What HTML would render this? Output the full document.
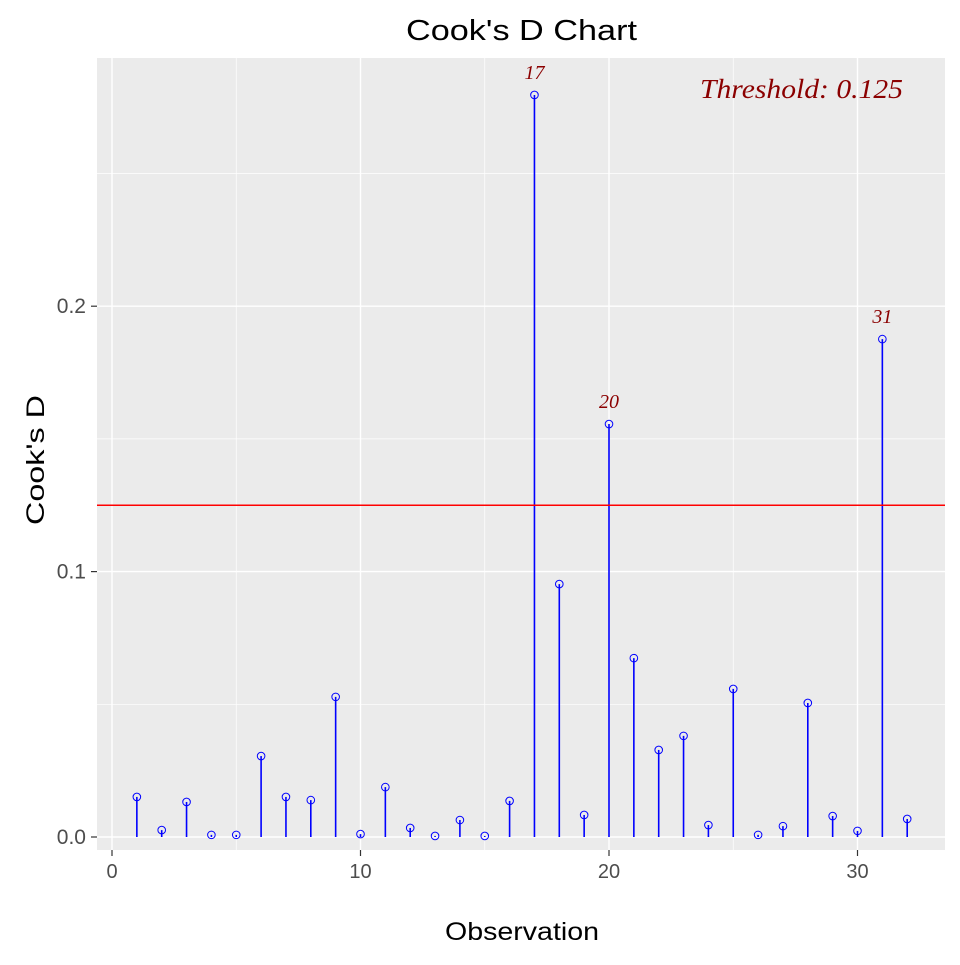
<!DOCTYPE html>
<html><head><meta charset="utf-8"><style>
body{margin:0;background:#fff}
svg text{font-family:"Liberation Sans",sans-serif}
</style></head><body>
<svg id="chart" width="960" height="960" xmlns="http://www.w3.org/2000/svg">
<rect width="960" height="960" fill="#fff"/>
<rect x="97" y="58" width="848" height="792" fill="#EBEBEB"/>
<g id="grid"></g>
<g id="marks"></g>
<g id="axes"></g>
<text x="406" y="40" font-size="29" textLength="231" lengthAdjust="spacingAndGlyphs" fill="#000">Cook's D Chart</text>
<text x="445" y="940" font-size="25" textLength="154" lengthAdjust="spacingAndGlyphs" fill="#000">Observation</text>
<text transform="translate(44,525) rotate(-90)" font-size="25" textLength="130" lengthAdjust="spacingAndGlyphs" fill="#000">Cook's D</text>
<text x="700" y="98" font-size="27" font-style="italic" textLength="203" lengthAdjust="spacingAndGlyphs" fill="#8B0000" style="font-family:'Liberation Serif',serif">Threshold: 0.125</text>
</svg>
<script>
const observations=[1,2,3,4,5,6,7,8,9,10,11,12,13,14,15,16,17,18,19,20,21,22,23,24,25,26,27,28,29,30,31,32];
const cooksD=[0.0151,0.0026,0.0132,0.0008,0.0008,0.0305,0.0151,0.0139,0.0528,0.0011,0.0188,0.0034,0.0004,0.0064,0.0004,0.0136,0.2796,0.0953,0.0083,0.1556,0.0674,0.0328,0.0381,0.0045,0.0558,0.0008,0.0041,0.0505,0.0079,0.0023,0.1876,0.0068];
const threshold=0.125;
const xTicks=[0,10,20,30];
const xMinor=[5,15,25];
const yTicks=[0,0.1,0.2];
const yTickLabels=["0.0","0.1","0.2"];
const yMinor=[0.05,0.15,0.25];
const X=v=>112+v*24.85;
const Y=v=>837-v*2654;
const NS="http://www.w3.org/2000/svg";
function mk(parent,tag,attrs){const e=document.createElementNS(NS,tag);for(const k in attrs)e.setAttribute(k,attrs[k]);document.getElementById(parent).appendChild(e);return e;}
xMinor.forEach(v=>{const e=mk('grid','line',{x1:X(v),x2:X(v),y1:58,y2:850,stroke:'#fff','stroke-width':0.7});

});
yMinor.forEach(v=>{const e=mk('grid','line',{x1:97,x2:945,y1:Y(v),y2:Y(v),stroke:'#fff','stroke-width':0.7});

});
xTicks.forEach(v=>{const e=mk('grid','line',{x1:X(v),x2:X(v),y1:58,y2:850,stroke:'#fff','stroke-width':1.4});


const t=mk('axes','line',{x1:X(v),x2:X(v),y1:850,y2:856,stroke:'#333','stroke-width':1.2});


const l=mk('axes','text',{x:X(v),y:878,'font-size':20,'text-anchor':'middle',fill:'#4D4D4D'});l.textContent=v;

});
yTicks.forEach((v,i)=>{const e=mk('grid','line',{x1:97,x2:945,y1:Y(v),y2:Y(v),stroke:'#fff','stroke-width':1.4});


const t=mk('axes','line',{x1:91,x2:97,y1:Y(v),y2:Y(v),stroke:'#333','stroke-width':1.2});


const l=mk('axes','text',{x:86,y:Y(v)+7,'font-size':21,'text-anchor':'end',fill:'#4D4D4D'});l.textContent=yTickLabels[i];

});
observations.forEach((o,i)=>{const d=cooksD[i];
const s=mk('marks','line',{x1:X(o),x2:X(o),y1:Y(0),y2:Y(d),stroke:'#0000FF','stroke-width':1.6});


const c=mk('marks','circle',{cx:X(o),cy:Y(d),r:3.8,fill:'none',stroke:'#0000FF','stroke-width':1});


if(d>threshold){const l=mk('marks','text',{x:X(o),y:Y(d)-16,'font-size':20,'font-style':'italic','text-anchor':'middle',fill:'#8B0000',style:"font-family:'Liberation Serif',serif"});l.textContent=o;

}});
const th=mk('marks','line',{x1:97,x2:945,y1:Y(threshold),y2:Y(threshold),stroke:'#FF0000','stroke-width':1.6});


</script>
</body></html>
